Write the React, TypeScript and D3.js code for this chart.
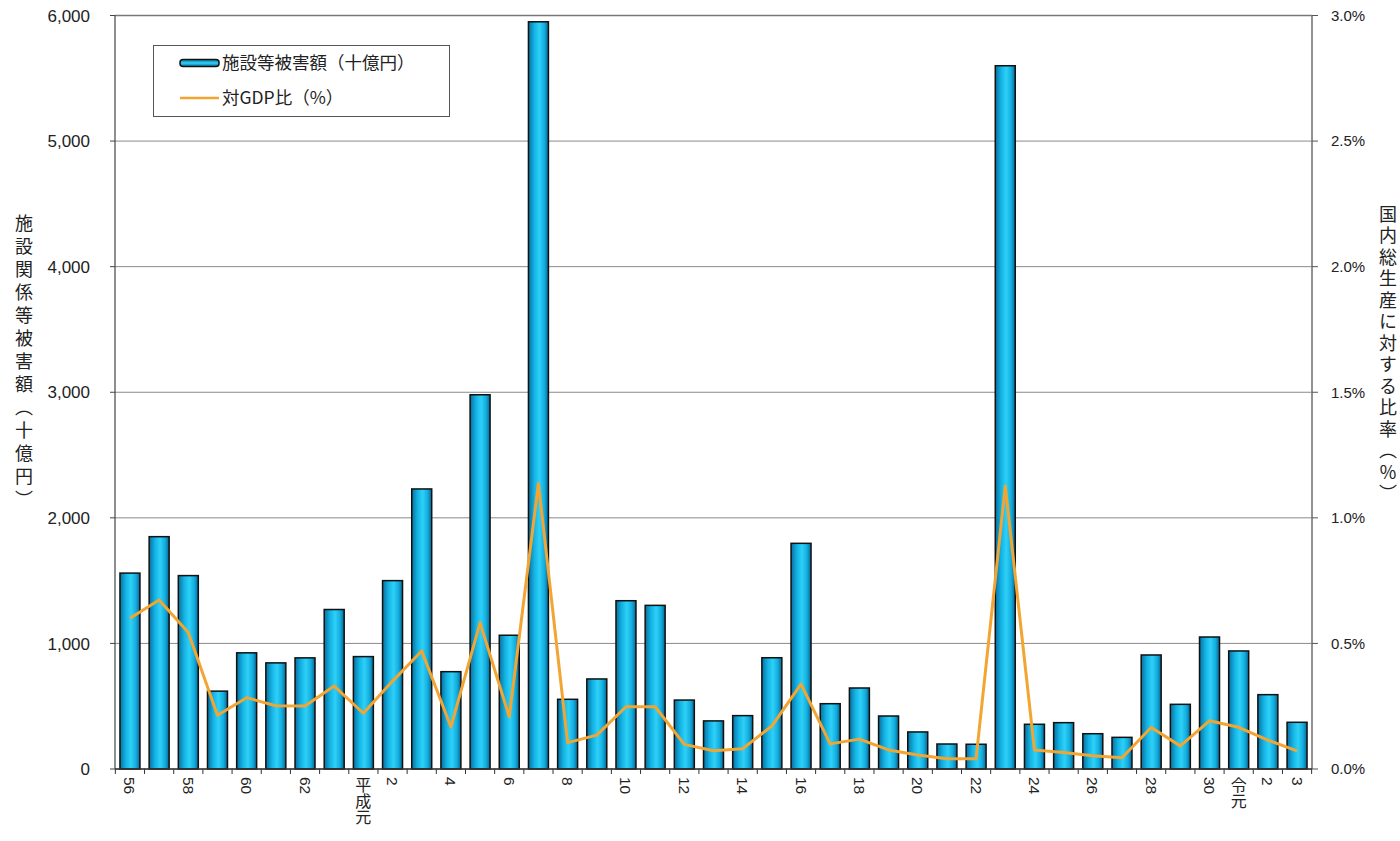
import React from "react";
import * as d3 from "d3";

// Fiscal years: Showa 56–63, Heisei 1–30, Reiwa 1–3
const categories = [
  "S56", "S57", "S58", "S59", "S60", "S61", "S62", "S63",
  "H1", "H2", "H3", "H4", "H5", "H6", "H7", "H8", "H9", "H10",
  "H11", "H12", "H13", "H14", "H15", "H16", "H17", "H18", "H19", "H20",
  "H21", "H22", "H23", "H24", "H25", "H26", "H27", "H28", "H29", "H30",
  "R1", "R2", "R3",
];

const tickLabels = [
  "56", "", "58", "", "60", "", "62", "",
  "平成元", "2", "", "4", "", "6", "", "8", "", "10",
  "", "12", "", "14", "", "16", "", "18", "", "20",
  "", "22", "", "24", "", "26", "", "28", "", "30",
  "令元", "2", "3",
];

// 施設等被害額（十億円）
const damage = [
  1560, 1850, 1540, 620, 925, 845, 885, 1270,
  895, 1500, 2230, 775, 2980, 1065, 5950, 555, 717, 1340,
  1303, 549, 383, 425, 886, 1797, 520, 645, 422, 295,
  199, 197, 5600, 356, 369, 281, 252, 908, 515, 1051,
  940, 592, 372,
];

// 対GDP比（%）
const gdpRatio = [
  0.6, 0.673, 0.543, 0.214, 0.284, 0.252, 0.251, 0.33,
  0.222, 0.35, 0.47, 0.168, 0.582, 0.208, 1.137, 0.105, 0.135, 0.248,
  0.248, 0.098, 0.073, 0.081, 0.171, 0.338, 0.1, 0.119, 0.076, 0.056,
  0.041, 0.041, 1.127, 0.076, 0.066, 0.053, 0.045, 0.165, 0.092, 0.192,
  0.166, 0.115, 0.072,
];

const leftTicks = [0, 1000, 2000, 3000, 4000, 5000, 6000];
const rightTicks = [0, 0.5, 1.0, 1.5, 2.0, 2.5, 3.0];

const leftTitle = "施設関係等被害額（十億円）";
const rightTitle = "国内総生産に対する比率（％）";
const legendBar = "施設等被害額（十億円）";
const legendLine = "対GDP比（%）";

const W = 1400;
const H = 841;
const plot = { left: 115, right: 1312, top: 15.5, bottom: 769 };

const NUM_FONT = "'Liberation Sans', Arial, sans-serif";
const JP_FONT = "'Noto Sans CJK JP', 'Noto Sans', sans-serif";
const LINE_COLOR = "#f2a532";

export default function App() {
  const x = d3
    .scaleBand<string>()
    .domain(categories)
    .range([plot.left, plot.right])
    .paddingInner(0.315)
    .paddingOuter(0.17);

  const yLeft = d3.scaleLinear().domain([0, 6000]).range([plot.bottom, plot.top]);
  const yRight = d3.scaleLinear().domain([0, 3]).range([plot.bottom, plot.top]);

  const step = x.step();
  const center = (c: string) => (x(c) ?? 0) + x.bandwidth() / 2;

  const tickXs = categories.map((c) => center(c) - step / 2);
  tickXs.push(center(categories[categories.length - 1]) + step / 2);

  const line = d3
    .line<number>()
    .x((_, i) => center(categories[i]))
    .y((d) => yRight(d));

  const fmt = d3.format(",");

  return (
    <svg
      width={W}
      height={H}
      style={{ position: "absolute", left: 0, top: 0, display: "block", background: "#fff" }}
    >
      <defs>
        <linearGradient id="barFill" x1="0" x2="1" y1="0" y2="0">
          <stop offset="0%" stopColor="#0a6f9c" />
          <stop offset="30%" stopColor="#13b4e6" />
          <stop offset="55%" stopColor="#2fd0f6" />
          <stop offset="80%" stopColor="#12ade0" />
          <stop offset="100%" stopColor="#0a6590" />
        </linearGradient>
        <linearGradient id="swatchFill" x1="0" x2="0" y1="0" y2="1">
          <stop offset="0%" stopColor="#0a6f9c" />
          <stop offset="50%" stopColor="#2fd0f6" />
          <stop offset="100%" stopColor="#0a6f9c" />
        </linearGradient>
      </defs>

      {/* gridlines */}
      {leftTicks.map((t) => (
        <line
          key={"g" + t}
          x1={plot.left}
          x2={plot.right}
          y1={yLeft(t)}
          y2={yLeft(t)}
          stroke={t === 6000 ? "#777" : "#8a8a8a"}
          strokeWidth={t === 6000 ? 1.6 : 1}
        />
      ))}

      {/* left axis */}
      <line x1={plot.left} x2={plot.left} y1={plot.top} y2={plot.bottom} stroke="#444" strokeWidth={1.2} />
      {leftTicks.map((t) => (
        <g key={"lt" + t}>
          <line x1={plot.left - 5} x2={plot.left} y1={yLeft(t)} y2={yLeft(t)} stroke="#444" />
          <text
            x={90}
            y={yLeft(t)}
            dy="0.36em"
            textAnchor="end"
            fontFamily={NUM_FONT}
            fontSize={17}
            fill="#222"
          >
            {fmt(t)}
          </text>
        </g>
      ))}

      {/* right axis */}
      <line x1={plot.right} x2={plot.right} y1={plot.top} y2={plot.bottom} stroke="#777" strokeWidth={1.6} />
      {rightTicks.map((t) => (
        <g key={"rt" + t}>
          <line x1={plot.right} x2={plot.right + 6} y1={yRight(t)} y2={yRight(t)} stroke="#555" />
          <text
            x={1331}
            y={yRight(t)}
            dy="0.36em"
            textAnchor="start"
            fontFamily={NUM_FONT}
            fontSize={15}
            fill="#222"
          >
            {t.toFixed(1) + "%"}
          </text>
        </g>
      ))}

      {/* bars */}
      {categories.map((c, i) => (
        <rect
          key={"b" + c}
          x={x(c)}
          y={yLeft(damage[i])}
          width={x.bandwidth()}
          height={plot.bottom - yLeft(damage[i])}
          fill="url(#barFill)"
          stroke="#111"
          strokeWidth={1.5}
        />
      ))}

      {/* baseline and x ticks */}
      <line x1={plot.left} x2={plot.right} y1={plot.bottom} y2={plot.bottom} stroke="#333" strokeWidth={1.4} />
      {tickXs.map((tx, i) => (
        <line key={"xt" + i} x1={tx} x2={tx} y1={plot.bottom} y2={plot.bottom + 5} stroke="#333" />
      ))}

      {/* ratio line */}
      <path
        d={line(gdpRatio) ?? ""}
        fill="none"
        stroke={LINE_COLOR}
        strokeWidth={3}
        strokeLinejoin="round"
      />

      {/* x labels, vertical writing */}
      {categories.map((c, i) =>
        tickLabels[i] ? (
          <text
            key={"xl" + c}
            x={center(c)}
            y={777}
            style={{ writingMode: "vertical-rl" }}
            fontFamily={/[0-9]/.test(tickLabels[i]) ? NUM_FONT : JP_FONT}
            fontSize={/[0-9]/.test(tickLabels[i]) ? 15.5 : 16}
            fill="#222"
          >
            {tickLabels[i]}
          </text>
        ) : null
      )}

      {/* axis titles */}
      <text
        x={24}
        y={214}
        style={{ writingMode: "vertical-rl", letterSpacing: "5px" }}
        fontFamily={JP_FONT}
        fontSize={18}
        fill="#222"
      >
        {leftTitle}
      </text>
      <text
        x={1388}
        y={205}
        style={{ writingMode: "vertical-rl", letterSpacing: "3.5px" }}
        fontFamily={JP_FONT}
        fontSize={18}
        fill="#222"
      >
        {rightTitle}
      </text>

      {/* legend */}
      <rect x={153.5} y={45.5} width={296} height={71} fill="#fff" stroke="#555" strokeWidth={1} />
      <rect x={180} y={59.5} width={39} height={7} rx={3} fill="url(#swatchFill)" stroke="#111" strokeWidth={1.5} />
      <text x={222} y={69} fontFamily={JP_FONT} fontSize={17.5} fill="#222">
        {legendBar}
      </text>
      <line x1={180} x2={219} y1={98} y2={98} stroke={LINE_COLOR} strokeWidth={2.5} />
      <text x={222} y={104} fontFamily={JP_FONT} fontSize={17.5} fill="#222">
        {legendLine}
      </text>
    </svg>
  );
}
